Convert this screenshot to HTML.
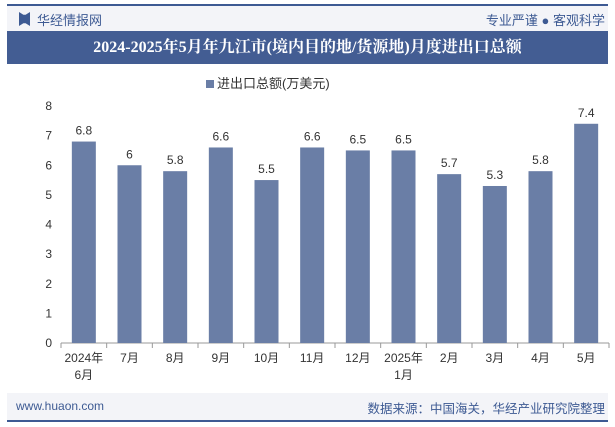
<!DOCTYPE html>
<html><head><meta charset="utf-8"><style>
body{margin:0;width:615px;height:427px;overflow:hidden;background:#fff;font-family:"Liberation Sans","Noto Sans CJK SC",sans-serif;position:relative}
.a{position:absolute}
</style></head><body>
<div class="a" style="left:7px;top:4px;width:601px;height:2px;background:#3d5a93"></div>
<div class="a" style="left:7px;top:6px;width:601px;height:25px;background:#f3f4f8"></div>
<div class="a" style="left:19px;top:12px;width:11px;height:14px;background:#3d5a93;clip-path:polygon(0 0,40% 20%,60% 20%,100% 0,100% 100%,60% 80%,40% 80%,0 100%)"></div>
<div class="a" style="left:37px;top:10px;font-size:13px;color:#3d5a93">华经情报网</div>
<div class="a" style="right:10px;top:10px;font-size:13px;color:#3d5a93">专业严谨 ● 客观科学</div>
<div class="a" style="left:7px;top:31px;width:601px;height:33px;background:#435d93;color:#fff;font-size:16px;font-weight:bold;text-align:center;line-height:33px;font-family:'Liberation Serif','Noto Serif CJK SC',serif" >2024-2025年5月年九江市(境内目的地/货源地)月度进出口总额</div>
<div class="a" style="left:206px;top:73px;font-size:13px;color:#333"><span style="display:inline-block;width:8px;height:8px;background:#6a7ea6;margin-right:3px"></span>进出口总额(万美元)</div>
<svg class="a" style="left:0;top:0" width="615" height="427">
<g id="g"></g>
</svg>
<div class="a" style="left:7px;top:393px;width:601px;height:27px;background:#f3f4f8"></div>
<div class="a" style="left:16px;top:399px;font-size:12px;color:#3d5a93">www.huaon.com</div>
<div class="a" style="right:10px;top:398px;font-size:12.5px;color:#3d5a93">数据来源：中国海关，华经产业研究院整理</div>
<div class="a" style="left:7px;top:420px;width:601px;height:2px;background:#3d5a93"></div>
<script>
const categories=["2024年|6月","7月","8月","9月","10月","11月","12月","2025年|1月","2月","3月","4月","5月"];
const values=[6.8,6,5.8,6.6,5.5,6.6,6.5,6.5,5.7,5.3,5.8,7.4];
const labels=["6.8","6","5.8","6.6","5.5","6.6","6.5","6.5","5.7","5.3","5.8","7.4"];
const yTicks=[0,1,2,3,4,5,6,7,8];
const g=document.getElementById('g'),NS="http://www.w3.org/2000/svg";
const x0=61,x1=609,yb=343,yt=106,ymax=8;
const bw=(x1-x0)/categories.length;
const y=v=>yb-(v/ymax)*(yb-yt);
const xc=i=>x0+bw*(i+0.5);
function mk(t,a,txt){const e=document.createElementNS(NS,t);for(const k in a)e.setAttribute(k,a[k]);if(txt!=null)e.textContent=txt;g.appendChild(e);return e;}
yTicks.forEach(v=>{const e=mk('text',{x:52,y:y(v)+4,'text-anchor':'end','font-size':12,fill:'#333'},v);

});
const ax=mk('line',{x1:x0,x2:x1,y1:yb,y2:yb,stroke:'#999'});


for(let i=0;i<=categories.length;i++){const t=mk('line',{x1:x0+bw*i,x2:x0+bw*i,y1:yb,y2:yb+5,stroke:'#999'});

}
values.forEach((v,i)=>{
const r=mk('rect',{x:xc(i)-12,y:y(v),width:24,height:yb-y(v),fill:'#6a7ea6'});


const l=mk('text',{x:xc(i),y:y(v)-7,'text-anchor':'middle','font-size':12,fill:'#333'},labels[i]);


categories[i].split('|').forEach((p,j)=>{const c=mk('text',{x:xc(i),y:362+j*17,'text-anchor':'middle','font-size':12,fill:'#333'},p);

});
});
</script>
</body></html>
